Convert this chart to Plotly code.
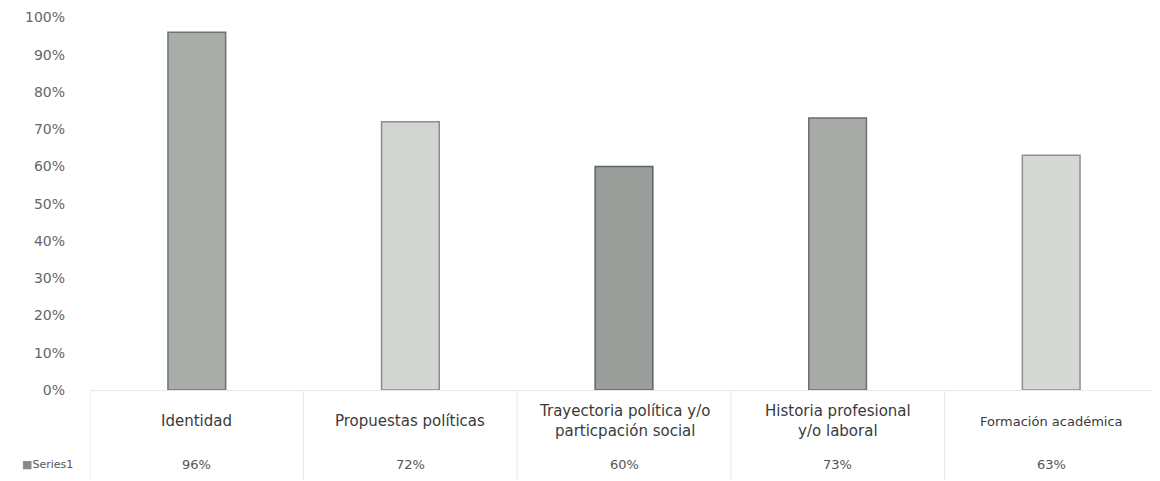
import plotly.graph_objects as go

categories = ["Identidad", "Propuestas políticas",
              "Trayectoria política y/o<br>particpación social",
              "Historia profesional<br>y/o laboral", "Formación académica"]
values = [0.96, 0.72, 0.60, 0.73, 0.63]
value_labels = ["96%", "72%", "60%", "73%", "63%"]
series_name = "Series1"
y_ticks = [0, 0.1, 0.2, 0.3, 0.4, 0.5, 0.6, 0.7, 0.8, 0.9, 1.0]
y_tick_text = ["0%", "10%", "20%", "30%", "40%", "50%", "60%", "70%", "80%", "90%", "100%"]

bar_colors = ["#a9ada9", "#d3d5d3", "#9b9f9b", "#a7aaa7", "#d6d8d6"]
edge_colors = ["#6e726e", "#8a8d8a", "#5f635f", "#6c706c", "#8c8f8c"]

fig = go.Figure()
fig.add_trace(go.Bar(
    x=list(range(len(categories))),
    y=values,
    width=0.27,
    marker=dict(color=bar_colors, line=dict(color=edge_colors, width=1.5)),
    showlegend=False,
    hoverinfo="skip",
))

# data table under the chart: category names and values
for i, (cat, lab) in enumerate(zip(categories, value_labels)):
    small = i == len(categories) - 1
    fig.add_annotation(x=i, y=-0.0816, xref="x", yref="paper", text=cat,
                       showarrow=False, yanchor="middle",
                       font=dict(size=13 if small else 15, color="#3a3a3a"))
    fig.add_annotation(x=i, y=-0.197, xref="x", yref="paper", text=lab,
                       showarrow=False, yanchor="middle",
                       font=dict(size=13, color="#555555"))

# legend key of the table row
fig.add_annotation(x=-0.066, y=-0.197, xref="paper", yref="paper",
                   text="<span style='color:#8a8a8a'>■</span>" + series_name,
                   showarrow=False, xanchor="left", yanchor="middle",
                   font=dict(size=11, color="#555555"))

# faint table separators
for k in range(len(categories)):
    fig.add_shape(type="line", x0=k - 0.5, x1=k - 0.5, xref="x",
                  y0=0, y1=-0.236, yref="paper",
                  line=dict(color="#e8e8e8", width=1))

fig.update_layout(
    width=1152, height=473,
    margin=dict(l=82, r=2, t=2, b=91),
    paper_bgcolor="white", plot_bgcolor="white",
    font=dict(family="DejaVu Sans", color="#555555"),
    xaxis=dict(range=[-0.5, 4.5], showticklabels=False, showgrid=False,
               zeroline=False, showline=True, linecolor="#e8e8e8"),
    yaxis=dict(range=[0, 1.02], tickmode="array", tickvals=y_ticks,
               ticktext=y_tick_text, showgrid=False,
               zeroline=False, showline=False, ticklabelstandoff=24,
               tickfont=dict(size=14, color="#666666")),
)

fig.write_html("out.html")
